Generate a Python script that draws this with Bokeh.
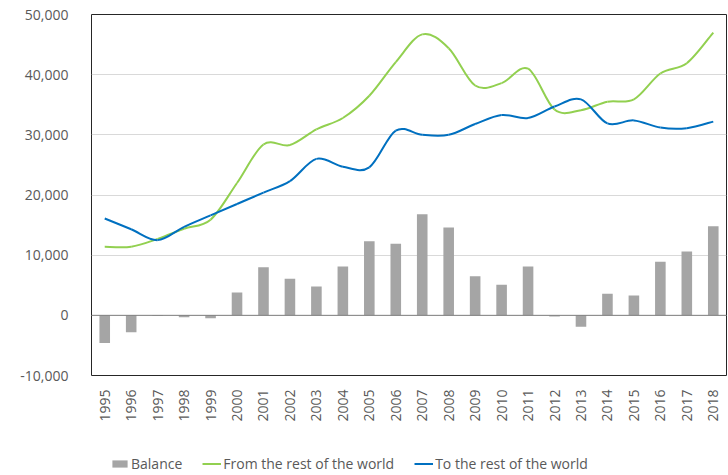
from bokeh.plotting import figure
from bokeh.layouts import column
from bokeh.models import (Range1d, FixedTicker, NumeralTickFormatter, Span,
                          Legend, LegendItem, ColumnDataSource)
from bokeh.embed import file_html
from bokeh.resources import INLINE
import math

years = [str(y) for y in range(1995, 2019)]
balance = [-4600, -2800, -100, -300, -500, 3800, 8000, 6100, 4800, 8100,
           12300, 11900, 16800, 14600, 6500, 5100, 8100, -200, -1900, 3600,
           3300, 8900, 10600, 14800]
from_world = [11400, 11400, 12700, 14400, 15900, 22000, 28400, 28300, 30900,
              32800, 36500, 42100, 46700, 44400, 38200, 38600, 41000, 34200,
              34100, 35500, 35900, 40200, 41900, 47000]
to_world = [16100, 14300, 12500, 14700, 16600, 18500, 20400, 22300, 26000,
            24700, 24600, 30700, 30000, 30000, 31800, 33300, 32800, 34700,
            35900, 31900, 32400, 31200, 31100, 32200]
y_ticks = [-10000, 0, 10000, 20000, 30000, 40000, 50000]
series_names = ["Balance", "From the rest of the world", "To the rest of the world"]

xs = list(range(len(years)))
font = "Open Sans"
grey_bar = "#a5a5a5"
green = "#92d050"
blue = "#0070c0"

p = figure(width=728, height=445, output_backend="svg", toolbar_location=None,
           x_range=Range1d(-0.5, len(years) - 0.5), y_range=Range1d(-10000, 50000),
           min_border_left=91, min_border_right=2, min_border_top=14,
           min_border_bottom=70)
p.outline_line_color = "#262626"
p.outline_line_width = 1
p.background_fill_color = "white"
p.border_fill_color = "white"

p.xgrid.visible = False
p.ygrid.grid_line_color = "#d9d9d9"
p.ygrid.grid_line_width = 1

p.yaxis.ticker = FixedTicker(ticks=y_ticks)
p.yaxis.formatter = NumeralTickFormatter(format="0,0")
p.yaxis.axis_line_color = None
p.yaxis.major_tick_line_color = None
p.yaxis.minor_tick_line_color = None
p.yaxis.major_label_text_font = font
p.yaxis.major_label_text_font_size = "14px"
p.yaxis.major_label_text_color = "#595959"
p.yaxis.major_label_standoff = 17

p.xaxis.ticker = FixedTicker(ticks=xs)
p.xaxis.major_label_overrides = {i: y for i, y in enumerate(years)}
p.xaxis.major_label_orientation = math.pi / 2
p.xaxis.axis_line_color = None
p.xaxis.major_tick_line_color = None
p.xaxis.minor_tick_line_color = None
p.xaxis.major_label_text_font = font
p.xaxis.major_label_text_font_size = "14px"
p.xaxis.major_label_text_color = "#595959"
p.xaxis.major_label_standoff = 8

p.vbar(x=xs, top=balance, bottom=0, width=0.4, fill_color=grey_bar,
       line_color=None)

p.add_layout(Span(location=0, dimension="width", line_color="#808080", line_width=1))


def smooth(vals):
    n = len(vals)
    d = dict(x0=[], y0=[], x1=[], y1=[], cx0=[], cy0=[], cx1=[], cy1=[])
    for i in range(n - 1):
        pm = i - 1 if i > 0 else i
        pp = i + 2 if i + 2 < n else i + 1
        d["x0"].append(xs[i]); d["y0"].append(vals[i])
        d["x1"].append(xs[i + 1]); d["y1"].append(vals[i + 1])
        d["cx0"].append(xs[i] + (xs[i + 1] - xs[pm]) / 6)
        d["cy0"].append(vals[i] + (vals[i + 1] - vals[pm]) / 6)
        d["cx1"].append(xs[i + 1] - (xs[pp] - xs[i]) / 6)
        d["cy1"].append(vals[i + 1] - (vals[pp] - vals[i]) / 6)
    return ColumnDataSource(d)


p.bezier(x0="x0", y0="y0", x1="x1", y1="y1", cx0="cx0", cy0="cy0",
         cx1="cx1", cy1="cy1", source=smooth(from_world), line_color=green,
         line_width=2)
p.bezier(x0="x0", y0="y0", x1="x1", y1="y1", cx0="cx0", cy0="cy0",
         cx1="cx1", cy1="cy1", source=smooth(to_world), line_color=blue,
         line_width=2)

# legend strip below the chart (series drawn out of its visible range,
# only their legend swatches show)
lf = figure(width=728, height=30, output_backend="svg", toolbar_location=None,
            x_range=Range1d(-0.5, len(years) - 0.5), y_range=Range1d(1e6, 1e6 + 1),
            min_border_left=0, min_border_right=0, min_border_top=0,
            min_border_bottom=0)
lf.axis.visible = False
lf.grid.visible = False
lf.outline_line_color = None
lf.border_fill_color = "white"
lf.background_fill_color = "white"
r_bar = lf.vbar(x=xs, top=balance, bottom=0, width=0.4, fill_color=grey_bar,
                line_color=None)
r_from = lf.line(x=xs, y=from_world, line_color=green, line_width=2)
r_to = lf.line(x=xs, y=to_world, line_color=blue, line_width=2)

legend = Legend(items=[LegendItem(label=series_names[0], renderers=[r_bar]),
                       LegendItem(label=series_names[1], renderers=[r_from]),
                       LegendItem(label=series_names[2], renderers=[r_to])],
                orientation="horizontal", location=(19, 2),
                label_text_font=font, label_text_font_size="14px",
                label_text_color="#595959", glyph_width=19, glyph_height=9,
                spacing=20, label_standoff=2, padding=0, margin=0,
                border_line_color=None, background_fill_alpha=0)
lf.add_layout(legend, "center")

open("out.html", "w").write(file_html(column(p, lf, spacing=0), INLINE))
